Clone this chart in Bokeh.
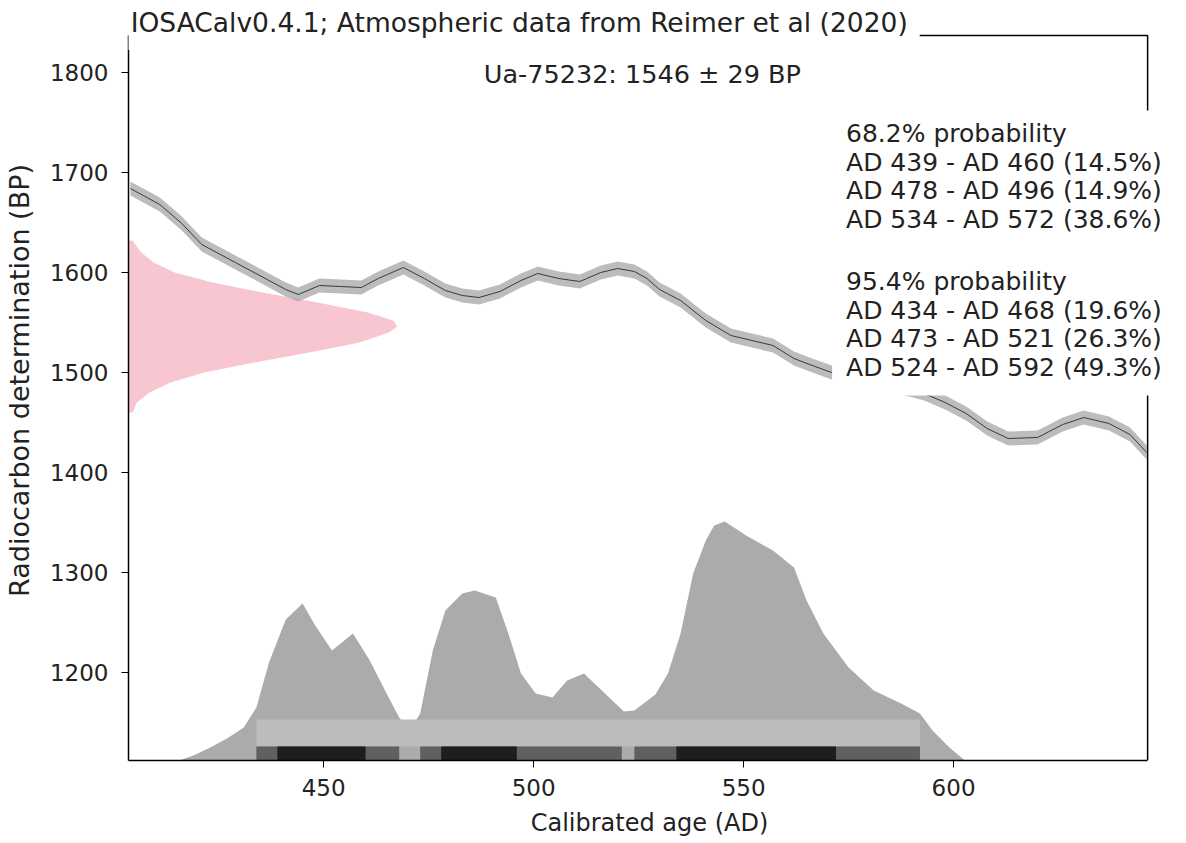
from bokeh.plotting import figure
from bokeh.models import Label, FixedTicker, Range1d
from bokeh.embed import file_html
from bokeh.resources import INLINE

# ---------------- data ----------------
# calibration curve (IntCal20), calendar year AD -> radiocarbon age BP
cal_ad = [404, 411, 416, 421, 429, 437, 441, 444, 449, 454, 459, 463, 469, 474,
          479, 483, 487, 492, 497, 501, 506, 511, 516, 520, 524, 527, 530, 535,
          541, 547, 552, 557, 562, 567, 571, 578, 585, 593, 598, 603, 608, 613,
          620, 626, 631, 637, 642, 646]
cal_bp = [1684, 1668, 1650, 1628, 1610, 1592, 1583, 1578, 1587, 1586, 1585, 1594,
          1605, 1594, 1582, 1577, 1575, 1581, 1592, 1599, 1594, 1591, 1600, 1604,
          1601, 1594, 1583, 1572, 1552, 1537, 1532, 1527, 1514, 1506, 1500, 1494,
          1488, 1479, 1470, 1459, 1444, 1434, 1435, 1448, 1455, 1449, 1438, 1420]
cal_err = 7

# measured radiocarbon date (pink curve on the BP axis)
lab_code = "Ua-75232"
lab_bp = 1546
lab_err = 29
pink_bp = [1632, 1620, 1610, 1600, 1590, 1580, 1570, 1560, 1552, 1546, 1540,
           1530, 1520, 1510, 1500, 1490, 1480, 1470, 1460]
pink_w = [1, 3, 6, 11, 20, 32, 45, 57, 63, 64, 62, 55, 43, 30, 18, 10, 5, 2, 1]

# calibrated distribution (grey area on the AD axis)
dist_ad = [415, 419, 423, 427, 431, 434, 437, 441, 445, 448, 452, 457, 461, 465,
           468, 470.5, 473, 476, 479, 483, 486, 491, 494, 497, 500.5, 504.5, 508,
           512, 517, 521.5, 524, 529, 532, 535, 538, 541, 543, 545.5, 551, 557,
           562, 565, 569, 575, 581, 587.5, 592, 595, 599, 603]
dist_bp = [1111, 1117, 1125, 1134, 1145, 1165, 1210, 1253, 1269, 1247, 1222, 1239,
           1212, 1179, 1155, 1142, 1159, 1222, 1262, 1279, 1282, 1275, 1239, 1199,
           1179, 1175, 1192, 1199, 1179, 1161, 1162, 1178, 1199, 1239, 1299, 1332,
           1347, 1351, 1336, 1322, 1305, 1272, 1239, 1205, 1182, 1169, 1159, 1142,
           1125, 1111]

# probability ranges
r68_start = [439, 478, 534]
r68_end = [460, 496, 572]
r68_pct = [14.5, 14.9, 38.6]
r95_start = [434, 473, 524]
r95_end = [468, 521, 592]
r95_pct = [19.6, 26.3, 49.3]

x_ticks = [450, 500, 550, 600]
y_ticks = [1200, 1300, 1400, 1500, 1600, 1700, 1800]

title_text = "IOSACalv0.4.1; Atmospheric data from Reimer et al (2020)"

# ---------------- figure ----------------
# plotted box (axes limits)
XA, XB = 403.55, 646.2
YA, YB = 1112, 1837
# frame is extended to the canvas edges so that the texts are not clipped
XF = 651.65
YF = 1872
PX = 4.2201          # pixels per calendar year
FONT = "DejaVu Sans"
TXT = "#222222"

p = figure(width=1170, height=843, output_backend="svg", toolbar_location=None,
           x_range=Range1d(XA, XF), y_range=Range1d(YA, YF),
           min_border_left=123, min_border_right=0, min_border_top=0,
           min_border_bottom=83)
p.background_fill_color = "white"
p.border_fill_color = "white"
p.outline_line_color = None
p.xgrid.visible = False
p.ygrid.visible = False

# pink measured date
p.harea(x1=XA, x2=[XA + w for w in pink_w], y=pink_bp,
        fill_color="#f7c3cf", fill_alpha=0.95)

# calibration curve band + line
p.varea(x=cal_ad, y1=[b - cal_err for b in cal_bp], y2=[b + cal_err for b in cal_bp],
        fill_color="#a6a6a6", fill_alpha=0.75)
p.line(cal_ad, cal_bp, line_color="#3a3a3a", line_width=1)

# calibrated distribution
p.varea(x=dist_ad, y1=YA - 1, y2=dist_bp, fill_color="#ababab", fill_alpha=1)

# range band and bars
p.quad(left=[min(r95_start)], right=[max(r95_end)], bottom=[1126], top=[1153],
       fill_color="#bcbcbc", line_color=None)
p.quad(left=r95_start, right=r95_end, bottom=YA - 1, top=1126,
       fill_color="#606060", line_color=None)
p.quad(left=r68_start, right=r68_end, bottom=YA - 1, top=1126,
       fill_color="#1e1e1e", line_color=None)

# top and right edges of the box
p.line(x=[XA, XB, XB], y=[YB, YB, YA], line_color="black", line_width=1.5)

# white background behind the probability text
p.quad(left=[XA + (838 - 131) / PX], right=[XF], bottom=[1477], top=[1762],
       fill_color="white", line_color=None)

# axes
p.xaxis.ticker = FixedTicker(ticks=x_ticks)
p.yaxis.ticker = FixedTicker(ticks=y_ticks)
p.xaxis.bounds = (XA, XB)
p.yaxis.bounds = (YA, YB)
for ax in (p.xaxis, p.yaxis):
    ax.axis_line_color = "black"
    ax.axis_line_width = 1.5
    ax.major_tick_line_color = "black"
    ax.major_tick_out = 7
    ax.major_tick_in = 0
    ax.minor_tick_line_color = None
    ax.major_label_text_font = FONT
    ax.major_label_text_font_size = "23px"
    ax.major_label_text_color = TXT
    ax.axis_label_text_font = FONT
    ax.axis_label_text_font_style = "normal"
    ax.axis_label_text_color = TXT
p.xaxis.axis_label = "Calibrated age (AD)"
p.yaxis.axis_label = "Radiocarbon determination (BP)"
p.xaxis.major_label_standoff = 11
p.xaxis.axis_label_standoff = 10
p.xaxis.axis_label_text_font_size = "24px"
p.yaxis.major_label_standoff = 13
p.yaxis.axis_label_standoff = 12
p.yaxis.axis_label_text_font_size = "27px"

# texts
p.add_layout(Label(x=XA + 0.5 - 12 / PX, y=1850, text=title_text, text_font=FONT,
                   text_font_size="26.5px", text_color=TXT,
                   text_align="left", text_baseline="middle",
                   background_fill_color="white", padding=12))
p.add_layout(Label(x=525.9, y=1799, text=f"{lab_code}: {lab_bp} \u00b1 {lab_err} BP",
                   text_font=FONT, text_font_size="25.5px", text_color=TXT,
                   text_align="center", text_baseline="middle"))

lines = ["68.2% probability"]
lines += [f"AD {a} - AD {b} ({c}%)" for a, b, c in zip(r68_start, r68_end, r68_pct)]
lines += ["95.4% probability"]
lines += [f"AD {a} - AD {b} ({c}%)" for a, b, c in zip(r95_start, r95_end, r95_pct)]
line_y = [1739, 1710.5, 1682, 1653.5, 1591, 1562.5, 1534, 1505.5]
for t, yy in zip(lines, line_y):
    p.add_layout(Label(x=XA + (852 - 131) / PX, y=yy, text=t, text_font=FONT,
                       text_font_size="25px", text_color=TXT,
                       text_align="left", text_baseline="middle"))

open("out.html", "w").write(file_html(p, INLINE))
